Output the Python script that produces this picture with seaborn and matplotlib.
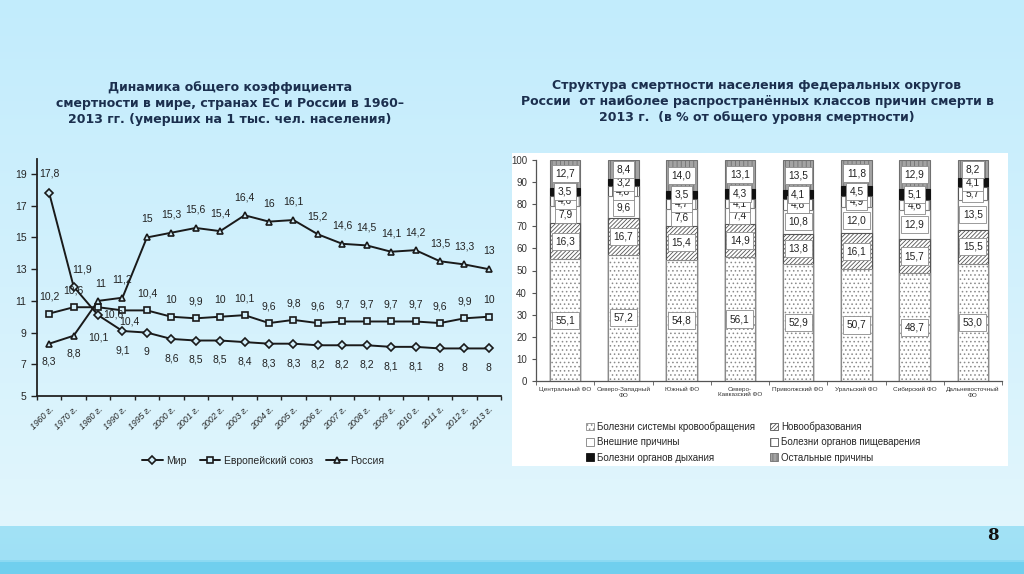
import numpy as np
import matplotlib.pyplot as plt
import seaborn as sns
from matplotlib.colors import LinearSegmentedColormap
from matplotlib.patches import Patch, Rectangle

# --- left chart: crude death rate, per 1000 population
years = ["1960 г.", "1970 г.", "1980 г.", "1990 г.", "1995 г.", "2000 г.", "2001 г.",
         "2002 г.", "2003 г.", "2004 г.", "2005 г.", "2006 г.", "2007 г.", "2008 г.",
         "2009 г.", "2010 г.", "2011 г.", "2012 г.", "2013 г."]
world = [17.8, 11.9, 10.1, 9.1, 9, 8.6, 8.5, 8.5, 8.4, 8.3, 8.3, 8.2, 8.2, 8.2, 8.1, 8.1, 8, 8, 8]
eu = [10.2, 10.6, 10.6, 10.4, 10.4, 10, 9.9, 10, 10.1, 9.6, 9.8, 9.6, 9.7, 9.7, 9.7, 9.7, 9.6, 9.9, 10]
russia = [8.3, 8.8, 11, 11.2, 15, 15.3, 15.6, 15.4, 16.4, 16, 16.1, 15.2, 14.6, 14.5, 14.1, 14.2, 13.5, 13.3, 13]

# --- right chart: structure of mortality by federal district, 2013, %
districts = ["Центральный ФО", "Северо-Западный\nФО", "Южный ФО", "Северо-\nКавказский ФО",
             "Приволжский ФО", "Уральский ФО", "Сибирский ФО", "Дальневосточный\nФО"]
circ = [55.1, 57.2, 54.8, 56.1, 52.9, 50.7, 48.7, 53.0]
neo = [16.3, 16.7, 15.4, 14.9, 13.8, 16.1, 15.7, 15.5]
external = [7.9, 9.6, 7.6, 7.4, 10.8, 12.0, 12.9, 13.5]
digest = [4.6, 4.8, 4.7, 4.1, 4.8, 4.9, 4.6, 5.7]
resp = [3.5, 3.2, 3.5, 4.3, 4.1, 4.5, 5.1, 4.1]
other = [12.7, 8.4, 14.0, 13.1, 13.5, 11.8, 12.9, 8.2]
causes = ["Болезни системы кровообращения", "Новообразования", "Внешние причины",
          "Болезни органов пищеварения", "Болезни органов дыхания", "Остальные причины"]

sns.set_style("ticks")
NARROW = ["Liberation Sans", "DejaVu Sans"]
plt.rcParams["font.family"] = ["DejaVu Sans"]
plt.rcParams["hatch.linewidth"] = 0.6

W, H = 1024, 574
fig = plt.figure(figsize=(W / 100, H / 100), dpi=100)

def box(x0, y0, x1, y1):
    # pixel box (top-left origin) -> figure fraction rect
    return [x0 / W, 1 - y1 / H, (x1 - x0) / W, (y1 - y0) / H]

# background
bg = fig.add_axes([0, 0, 1, 1], zorder=-10)
cmap = LinearSegmentedColormap.from_list("bg", [(0, "#c2ecfc"), (0.5, "#d3f1fc"), (0.92, "#e2f6fd"),
                                                (0.921, "#a2e2f6"), (0.98, "#9fe0f5"),
                                                (0.981, "#70cfee"), (1, "#70cfee")])
bg.imshow(np.linspace(0, 1, H)[:, None], aspect="auto", cmap=cmap, extent=[0, W, H, 0])
bg.set_xlim(0, W)
bg.set_ylim(H, 0)
bg.axis("off")
fig.text(993 / W, 1 - 536 / H, "8", ha="center", va="center", fontsize=12, weight="bold",
         family="DejaVu Serif", color="#111")

title_kw = dict(ha="center", va="center", fontsize=9, weight="bold", color="#1b2f4e", linespacing=1.3)
fig.text(230 / W, 1 - 103 / H, "Динамика общего коэффициента\nсмертности в мире, странах ЕС и России в 1960–\n"
         "2013 гг. (умерших на 1 тыс. чел. населения)", **title_kw)
fig.text(757 / W, 1 - 102 / H, "Структура смертности населения федеральных округов\n"
         "России  от наиболее распространённых классов причин смерти в\n"
         "2013 г.  (в % от общего уровня смертности)", **title_kw)

# ---------------- left line chart
ax1 = fig.add_axes(box(37, 159, 501, 396))
ax1.patch.set_alpha(0)
xs = np.arange(len(years))
line_kw = dict(color="#1a1a1a", linewidth=1.4, markerfacecolor="#d3effa", markeredgecolor="#1a1a1a",
               markeredgewidth=1.2, ax=ax1)
sns.lineplot(x=xs, y=world, marker="D", markersize=4, label="Мир", **line_kw)
sns.lineplot(x=xs, y=eu, marker="s", markersize=5, label="Европейский союз", **line_kw)
sns.lineplot(x=xs, y=russia, marker="^", markersize=5, label="Россия", **line_kw)

def fmt(v):
    return f"{v:g}".replace(".", ",")

lab_kw = dict(ha="center", va="center", fontsize=7.5, family=NARROW, color="#222")
world_off = [(0, 14), (6, 12)] + [(0, -14)] * 17
world_off[2] = (0, -16)
eu_off = [(0, 12)] * 19
eu_off[2] = (11, -5)
eu_off[3] = (5, -8)
russia_off = [(0, -13), (0, -13)] + [(0, 13)] * 17
russia_off[2] = (2, 12)
for vals, offs in [(world, world_off), (eu, eu_off), (russia, russia_off)]:
    for i, v in enumerate(vals):
        ax1.annotate(fmt(v), (i, v), xytext=offs[i], textcoords="offset points", **lab_kw)

ax1.set_xlim(-0.5, len(years) - 0.5)
ax1.set_ylim(5, 19.95)
ax1.set_yticks(range(5, 20, 2))
ax1.set_xticks(xs)
ax1.set_xticklabels(years, rotation=45, ha="right", rotation_mode="anchor", fontsize=6.3,
                    family=NARROW, style="italic")
ax1.set_xticks(np.arange(-0.5, len(years), 1), minor=True)
ax1.tick_params(axis="x", which="major", length=0, pad=6)
ax1.tick_params(axis="x", which="minor", length=3, width=1, color="#222")
ax1.tick_params(axis="y", length=4, width=1, color="#222", labelsize=7.5)
for t in ax1.get_yticklabels():
    t.set_family(NARROW)
for s in ["top", "right"]:
    ax1.spines[s].set_visible(False)
for s in ["left", "bottom"]:
    ax1.spines[s].set_linewidth(1.3)
    ax1.spines[s].set_color("#222")
ax1.legend(loc="center", bbox_to_anchor=(263 / W, 1 - 461 / H), bbox_transform=fig.transFigure,
           ncol=3, frameon=False, handlelength=2.0, handletextpad=0.3, columnspacing=1.3,
           prop={"family": NARROW, "size": 7.5})

# ---------------- right stacked bars
fig.add_artist(Rectangle((512 / W, 1 - 466 / H), 496 / W, 313 / H, transform=fig.transFigure,
                         facecolor="white", edgecolor="none", zorder=-5))
ax2 = fig.add_axes(box(536, 160, 1002, 381))
ax2.patch.set_alpha(0)
layers = [circ, neo, external, digest, resp, other]
styles = [dict(fc="white", ec="#8a8a8a", hatch="...."),
          dict(fc="white", ec="#555555", hatch="////////"),
          dict(fc="white", ec="#808080", hatch=None),
          dict(fc="white", ec="#555555", hatch="||"),
          dict(fc="#111111", ec="#111111", hatch=None),
          dict(fc="#a3a3a3", ec="#707070", hatch="||||")]
cum = np.cumsum(np.array(layers), axis=0)
for k in range(len(layers) - 1, -1, -1):
    n0 = len(ax2.patches)
    sns.barplot(x=districts, y=cum[k], color=styles[k]["fc"], width=0.52, ax=ax2,
                saturation=1, edgecolor=styles[k]["ec"], linewidth=0.8)
    for p in ax2.patches[n0:]:
        p.set_facecolor(styles[k]["fc"])
        p.set_hatch(styles[k]["hatch"])

for i in range(len(districts)):
    bottom = 0
    for k, vals in enumerate(layers):
        v = vals[i]
        ax2.text(i, bottom + v / 2, f"{v:.1f}".replace(".", ","), ha="center", va="center",
                 fontsize=7.3, color="#222", family=NARROW,
                 bbox=dict(boxstyle="square,pad=0.35", fc="white", ec="#8a8a8a", lw=0.6))
        bottom += v

ax2.set_xlim(-0.5, len(districts) - 0.5)
ax2.set_ylim(0, 100)
ax2.set_yticks(range(0, 101, 10))
ax2.set_xticks(np.arange(-0.5, len(districts), 1), minor=True)
ax2.tick_params(axis="x", which="major", length=0, labelsize=4.6, pad=4, labelcolor="#333")
ax2.tick_params(axis="x", which="minor", length=3, color="#555")
ax2.tick_params(axis="y", length=3, color="#555", labelsize=7, labelcolor="#333")
for t in ax2.get_xticklabels() + ax2.get_yticklabels():
    t.set_family(NARROW)
for s in ["top", "right"]:
    ax2.spines[s].set_visible(False)
for s in ["left", "bottom"]:
    ax2.spines[s].set_color("#555")
    ax2.spines[s].set_linewidth(0.9)
ax2.set_xlabel("")
ax2.set_ylabel("")

handles = [Patch(facecolor=st["fc"], edgecolor=st["ec"], hatch=st["hatch"], linewidth=0.6, label=c)
           for st, c in zip(styles, causes)]
order = [0, 2, 4, 1, 3, 5]
ax2.legend([handles[j] for j in order], [causes[j] for j in order], loc="center",
           bbox_to_anchor=(753 / W, 1 - 442 / H), bbox_transform=fig.transFigure, ncol=2,
           frameon=False, handlelength=0.8, handleheight=0.8, handletextpad=0.3,
           columnspacing=1.6, labelspacing=0.55, prop={"family": NARROW, "size": 7})

fig.savefig("out.png", dpi=100)
